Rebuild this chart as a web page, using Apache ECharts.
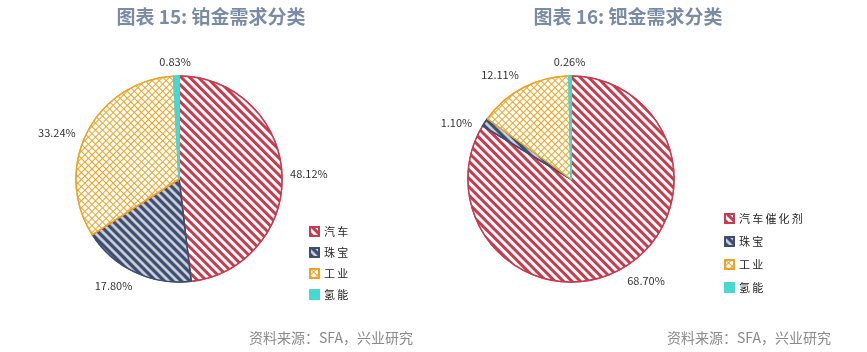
<!DOCTYPE html>
<html lang="zh">
  <head>
    <meta charset="UTF-8" />
    <title>铂金/钯金需求分类</title>
    <script src="https://cdn.jsdelivr.net/npm/echarts@6/dist/echarts.min.js"></script>
    <style>
      body { margin: 0; background: #fff; }
    </style>
  </head>
  <body>
    <div id="main" style="width: 867px; height: 352px"></div>
    <script type="text/javascript">
      // data
      const ptNames = ["汽车", "珠宝", "工业", "氢能"];
      const ptValues = [48.12, 17.8, 33.24, 0.83];
      const pdNames = ["汽车催化剂", "珠宝", "工业", "氢能"];
      const pdValues = [68.7, 1.1, 12.11, 0.26];

      const colors = ["#c93a4c", "#3c4d71", "#f2a122", "#45d9d2"];
      const font = "'Noto Sans CJK SC', 'Noto Sans', sans-serif";
      const R = 103;
      const CY = 179;

      // stripes for red / navy, cross grid for orange, plain for teal
      const stripe = {
        symbol: "rect",
        color: "#fff",
        dashArrayX: [1, 0],
        dashArrayY: [2.7, 2.3],
        rotation: Math.PI / 4,
      };
      const grid = {
        symbol: "rect",
        color: "#fff",
        symbolSize: 1,
        dashArrayX: [3.9, 1],
        dashArrayY: [3.9, 1],
        rotation: Math.PI / 4,
      };
      const decals = [stripe, stripe, grid, { symbol: "none" }];

      function buildData(names, values) {
        return names.map((n, i) => ({
          name: n,
          value: values[i],
          itemStyle: { color: colors[i], borderColor: colors[i], borderWidth: 1.5, decal: decals[i] },
        }));
      }

      // put each label just outside the rim near the slice's mid angle,
      // leaning a little toward the horizontal like the original does
      function outsideLabels(values, cx) {
        const total = values.reduce((a, b) => a + b, 0);
        let acc = 0;
        const mids = values.map((v) => {
          const m = acc + v / 2;
          acc += v;
          return (m / total) * Math.PI * 2;
        });
        return (p) => {
          let a = mids[p.dataIndex];
          a += (8 * Math.PI / 180) * Math.sin(2 * a);
          const ux = Math.sin(a);
          const uy = -Math.cos(a);
          const hw = p.labelRect.width / 2;
          const hh = p.labelRect.height / 2;
          const d = R + 8 + Math.abs(ux) * hw + Math.abs(uy) * hh;
          return { x: cx + ux * d, y: CY + uy * d, align: "center", verticalAlign: "middle" };
        };
      }

      function pieSeries(names, values, cx) {
        return {
          type: "pie",
          center: [cx, CY],
          radius: R,
          startAngle: 90,
          clockwise: true,
          data: buildData(names, values),
          label: {
            show: true,
            position: "outside",
            overflow: "none",
            color: "#333",
            fontSize: 11,
            fontFamily: font,
            formatter: (p) => p.value.toFixed(2) + "%",
          },
          labelLine: { show: false },
          labelLayout: outsideLabels(values, cx),
          emphasis: { disabled: true },
          animation: false,
        };
      }

      // legend text in the picture is loosely spaced
      const spaced = (name) => name.split("").join("\u2009");

      let myChart = echarts.init(document.getElementById("main"));
      let options = {
        aria: { enabled: true, decal: { show: true } },
        title: [
          {
            text: "图表 15: 铂金需求分类",
            left: 206,
            textAlign: "center",
            top: 2,
            textStyle: { color: "#7a8ba6", fontSize: 19, fontWeight: "bold", fontFamily: font },
          },
          {
            text: "图表 16: 钯金需求分类",
            left: 623,
            textAlign: "center",
            top: 2,
            textStyle: { color: "#7a8ba6", fontSize: 19, fontWeight: "bold", fontFamily: font },
          },
        ],
        legend: [
          {
            data: ptNames,
            orient: "vertical",
            left: 304,
            top: 221,
            icon: "rect",
            itemWidth: 9,
            itemHeight: 9,
            itemGap: 10,
            formatter: spaced,
            textStyle: { fontSize: 11, color: "#222", fontFamily: font },
          },
          {
            data: pdNames,
            orient: "vertical",
            left: 719,
            top: 208,
            icon: "rect",
            itemWidth: 9,
            itemHeight: 9,
            itemGap: 12,
            formatter: spaced,
            textStyle: { fontSize: 11, color: "#222", fontFamily: font },
          },
        ],
        graphic: [
          {
            type: "text",
            right: 454,
            top: 331,
            style: { text: "资料来源：SFA，兴业研究", fill: "#8a8a8a", font: "14px " + font },
          },
          {
            type: "text",
            right: 36,
            top: 331,
            style: { text: "资料来源：SFA，兴业研究", fill: "#8a8a8a", font: "14px " + font },
          },
        ],
        series: [pieSeries(ptNames, ptValues, 179), pieSeries(pdNames, pdValues, 571)],
      };
      myChart.setOption(options);
    </script>
  </body>
</html>
